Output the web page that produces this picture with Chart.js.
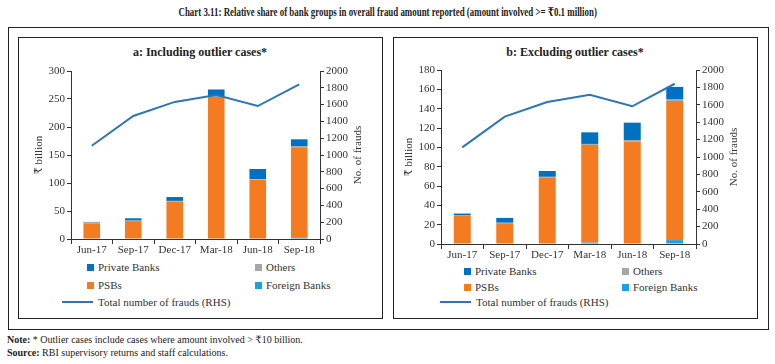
<!DOCTYPE html>
<html>
<head>
<meta charset="utf-8">
<script src="https://cdn.jsdelivr.net/npm/chart.js"></script>
<style>
  body { margin: 0; width: 775px; height: 364px; background: #fff; position: relative; overflow: hidden;
         font-family: "Liberation Serif", "DejaVu Serif", "Noto Sans", serif; color: #222; }
  #title { position: absolute; left: 0; top: 5px; width: 775px; text-align: center; font-weight: bold; font-size: 12px; }
  #title span { display: inline-block; transform: scaleX(0.74); white-space: nowrap; }
  .box { position: absolute; border: 1px solid #222; box-sizing: border-box; }
  .head { position: absolute; width: 364px; text-align: center; font-weight: bold; font-size: 12px; white-space: nowrap; }
  .cv { position: absolute; }
  .leg { position: absolute; display: flex; align-items: center; height: 14px; font-size: 11px; color: #333; white-space: nowrap; }
  .mk-box { display: inline-block; width: 7px; height: 7px; margin-right: 4px; }
  .mk-line { display: inline-block; width: 31px; height: 2px; margin-right: 5px; }
  .note { position: absolute; left: 7px; font-size: 10px; color: #222; white-space: nowrap; }
</style>
</head>
<body>
<div id="title"><span>Chart 3.11: Relative share of bank groups in overall fraud amount reported (amount involved &gt;= ₹0.1 million)</span></div>
<div class="box" style="left:8px;top:27px;width:761px;height:303px;"></div>
<div class="box" style="left:18px;top:37px;width:365px;height:282px;"></div>
<div class="box" style="left:393px;top:37px;width:365px;height:282px;"></div>
<div class="head" style="left:18px;top:45px;">a: Including outlier cases*</div>
<div class="head" style="left:393px;top:45px;">b: Excluding outlier cases*</div>
<canvas id="chartA" class="cv" width="352" height="197" style="left:24px;top:61px;"></canvas>
<canvas id="chartB" class="cv" width="358" height="203" style="left:394px;top:60px;"></canvas>
<div class="note" style="top:334px;"><b>Note:</b> * Outlier cases include cases where amount involved &gt; ₹10 billion.</div>
<div class="note" style="top:347px;"><b>Source:</b> RBI supervisory returns and staff calculations.</div>

<script>
// quarters on the x axis
const quarters = ['Jun-17', 'Sep-17', 'Dec-17', 'Mar-18', 'Jun-18', 'Sep-18'];

// a: including outlier cases (₹ billion)
const foreignA = [0, 0, 0, 0, 0, 3];
const psbA = [28, 32, 67, 254, 106, 161];
const othersA = [1.5, 1, 1, 1, 1, 2];
const privateA = [1, 4, 7, 12, 18, 12];

// b: excluding outlier cases (₹ billion)
const foreignB = [0, 0, 0, 1.5, 0, 4];
const psbB = [29, 21.5, 68.5, 101, 106, 144];
const othersB = [1, 0.5, 1, 1, 1.5, 2];
const privateB = [1.5, 5, 6, 12, 18, 12.5];

// total number of frauds (RHS), same in both panels
const frauds = [1110, 1464, 1632, 1715, 1583, 1842];

const colors = {
    private: '#0070C0',
    psb: '#F47B20',
    others: '#A6A6A6',
    foreign: '#1BA1E2',
    line: '#2E75B6'
};
const axisColor = '#333';

Chart.defaults.font.family = '"Liberation Serif", "DejaVu Serif", "Noto Sans", serif';
Chart.defaults.font.size = 11;
Chart.defaults.color = '#333';

// draws the right axis title reading bottom to top
const rightTitle = {
    id: 'rightTitle',
    afterDraw(chart, args, opts) {
        const s = chart.scales.y2;
        const ctx = chart.ctx;
        ctx.save();
        ctx.translate(s.right - 18, (chart.chartArea.top + chart.chartArea.bottom) / 2);
        ctx.rotate(-Math.PI / 2);
        ctx.font = '11px "Liberation Serif", "DejaVu Serif", serif';
        ctx.fillStyle = '#333';
        ctx.textAlign = 'center';
        ctx.textBaseline = 'middle';
        ctx.fillText(opts.text, 0, 0);
        ctx.restore();
    }
};

function makeChart(id, foreign, psb, others, priv, leftMax, leftStep) {
    const ctx = document.getElementById(id).getContext('2d');
    return new Chart(ctx, {
        data: {
            labels: quarters,
            datasets: [
                { type: 'line', label: 'Total number of frauds (RHS)', data: frauds, yAxisID: 'y2',
                  borderColor: colors.line, backgroundColor: colors.line, borderWidth: 2,
                  pointRadius: 0, tension: 0, order: 0 },
                { type: 'bar', label: 'Foreign Banks', data: foreign, backgroundColor: colors.foreign, order: 1 },
                { type: 'bar', label: 'PSBs', data: psb, backgroundColor: colors.psb, order: 1 },
                { type: 'bar', label: 'Others', data: others, backgroundColor: colors.others, order: 1 },
                { type: 'bar', label: 'Private Banks', data: priv, backgroundColor: colors.private, order: 1 }
            ]
        },
        options: {
            responsive: false,
            animation: false,
            layout: { padding: { top: 10, left: 0, right: 0, bottom: 0 } },
            datasets: { bar: { categoryPercentage: 0.5, barPercentage: 0.8 } },
            plugins: {
                legend: { display: false },
                tooltip: { enabled: false },
                rightTitle: { text: 'No. of frauds' }
            },
            scales: {
                x: {
                    stacked: true,
                    grid: { offset: true, drawOnChartArea: false, tickLength: 5, color: axisColor },
                    border: { color: axisColor },
                    ticks: { padding: 0, maxRotation: 0, autoSkip: false },
                    afterFit: s => { s.height = 19; }
                },
                y: {
                    position: 'left',
                    stacked: true,
                    min: 0,
                    max: leftMax,
                    ticks: { stepSize: leftStep, padding: 2 },
                    grid: { drawOnChartArea: false, tickLength: 4, color: axisColor },
                    border: { color: axisColor },
                    title: { display: true, text: '₹ billion', padding: { top: 9, bottom: 0 } },
                    afterFit: s => { s.width = 47; }
                },
                y2: {
                    position: 'right',
                    min: 0,
                    max: 2000,
                    ticks: { stepSize: 200, padding: 2, callback: v => String(v) },
                    grid: { drawOnChartArea: false, tickLength: 4, color: axisColor },
                    border: { color: axisColor },
                    afterFit: s => { s.width = 56; }
                }
            }
        },
        plugins: [rightTitle]
    });
}

// html legend built from the chart's datasets
function buildLegend(chart, slots) {
    chart.data.datasets.forEach(ds => {
        const pos = slots[ds.label];
        const item = document.createElement('div');
        item.className = 'leg';
        item.style.left = pos[0] + 'px';
        item.style.top = (pos[1] - 7) + 'px';
        const mark = document.createElement('span');
        mark.className = ds.type === 'line' ? 'mk-line' : 'mk-box';
        mark.style.background = ds.type === 'line' ? ds.borderColor : ds.backgroundColor;
        item.appendChild(mark);
        item.appendChild(document.createTextNode(ds.label));
        document.body.appendChild(item);
    });
}

const chartA = makeChart('chartA', foreignA, psbA, othersA, privateA, 300, 50);
const chartB = makeChart('chartB', foreignB, psbB, othersB, privateB, 180, 20);

buildLegend(chartA, {
    'Private Banks': [87, 267], 'Others': [255, 267],
    'PSBs': [87, 285], 'Foreign Banks': [255, 285],
    'Total number of frauds (RHS)': [62, 302]
});
buildLegend(chartB, {
    'Private Banks': [464, 271], 'Others': [622, 271],
    'PSBs': [464, 287], 'Foreign Banks': [622, 287],
    'Total number of frauds (RHS)': [440, 302]
});
</script>
</body>
</html>
